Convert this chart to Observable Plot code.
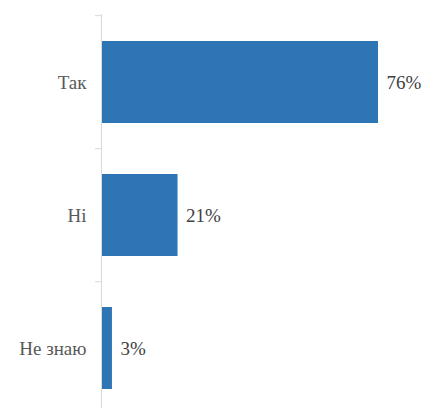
<!DOCTYPE html>
<html><head><meta charset="utf-8">
<script src="https://cdn.jsdelivr.net/npm/d3@7"></script>
<script src="https://cdn.jsdelivr.net/npm/@observablehq/plot@0.6"></script>
<style>body{margin:0;background:#fff} #chart svg, #chart svg text{font-family:"Liberation Serif","DejaVu Serif",serif !important}</style>
</head><body><div id="chart"></div>
<script>
const categories = ["Так", "Ні", "Не знаю"];
const values = [76, 21, 3];
const valueLabels = ["76%", "21%", "3%"];

const data = categories.map((c, i) => ({cat: c, v: values[i], label: valueLabels[i]}));
const step = (415 - 14) / 3;
const font = "Liberation Serif";

const chart = Plot.plot({
  width: 422, height: 408,
  marginLeft: 101, marginRight: 44, marginTop: 14, marginBottom: 0,
  style: {fontFamily: font, background: "#fff"},
  x: {domain: [0, 76], axis: null},
  y: {domain: categories, range: [14, 415], paddingInner: 0.386, paddingOuter: 0.193, label: null},
  marks: [
    Plot.barX(data, {y: "cat", x: "v", fill: "#2e75b6"}),
    Plot.ruleX([0], {stroke: "#d9d9d9", strokeWidth: 1}),
    Plot.ruleY(categories, {y: d => d, x1: 0, x2: 0, insetLeft: -6, dy: -step / 2, stroke: "#d9d9d9"}),
    Plot.axisY({tickSize: 0, tickPadding: 15, fontSize: 19, fill: "#595959", fontFamily: font}),
    Plot.text(data, {y: "cat", x: "v", text: "label", dx: 8, textAnchor: "start", fontSize: 19, fill: "#404040", fontFamily: font})
  ]
});
document.getElementById("chart").append(chart);
</script></body></html>
